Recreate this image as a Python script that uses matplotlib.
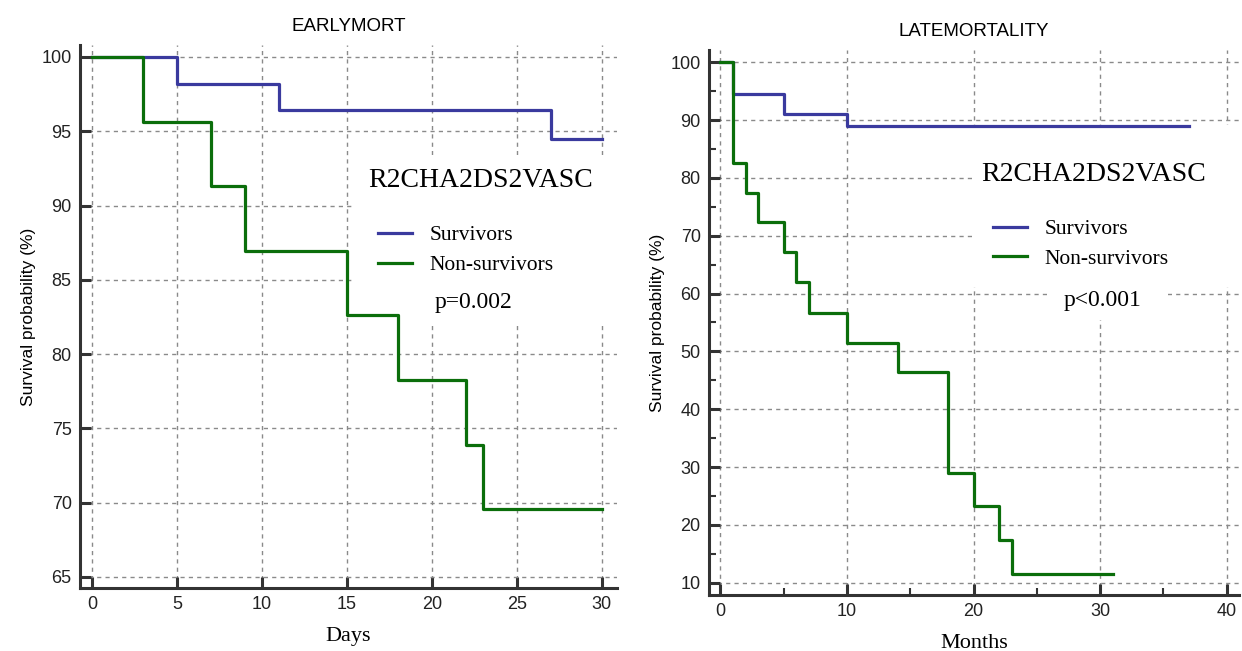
import matplotlib
matplotlib.use("Agg")
import matplotlib.pyplot as plt
from matplotlib.patches import Rectangle
from matplotlib.ticker import MultipleLocator

# EARLYMORT (days)
early_surv_t = [0, 5, 11, 27, 30]
early_surv_s = [100, 98.2, 96.4, 94.5, 94.5]
early_non_t = [0, 3, 7, 9, 15, 18, 22, 23, 30]
early_non_s = [100, 95.65, 91.3, 86.96, 82.6, 78.26, 73.9, 69.57, 69.57]

# LATEMORTALITY (months)
late_surv_t = [0, 1, 5, 10, 37]
late_surv_s = [100, 94.5, 91.0, 88.9, 88.9]
late_non_t = [0, 1, 2, 3, 5, 6, 7, 10, 14, 18, 20, 22, 23, 31]
late_non_s = [100, 82.5, 77.4, 72.3, 67.2, 62.0, 56.7, 51.5, 46.4, 29.0, 23.2, 17.4, 11.5, 11.5]

labels = ["Survivors", "Non-survivors"]
score_name = "R2CHA2DS2VASC"
early_p = "p=0.002"
late_p = "p<0.001"

BLUE = "#3a3a9e"
GREEN = "#0b6e0b"
AX = "#333333"
SANS = "Liberation Sans"
SERIF = "Liberation Serif"

fig = plt.figure(figsize=(12.42, 6.51), dpi=100)
ax1 = fig.add_axes([0.0644, 0.0968, 0.4324, 0.834])
ax2 = fig.add_axes([0.5709, 0.086, 0.427, 0.837])


def style(ax, xlim, ylim, xmaj, ymaj, minor):
    ax.set_xlim(*xlim)
    ax.set_ylim(*ylim)
    ax.xaxis.set_major_locator(MultipleLocator(xmaj))
    ax.yaxis.set_major_locator(MultipleLocator(ymaj))
    if minor:
        ax.xaxis.set_minor_locator(MultipleLocator(xmaj / 2))
        ax.yaxis.set_minor_locator(MultipleLocator(ymaj / 2))
    for s in ["top", "right"]:
        ax.spines[s].set_visible(False)
    for s in ["left", "bottom"]:
        ax.spines[s].set_linewidth(2.2)
        ax.spines[s].set_color(AX)
    ax.tick_params(which="major", direction="in", length=8, width=2.2, color=AX,
                   labelsize=13, labelcolor="#222222", pad=6)
    ax.tick_params(which="minor", direction="in", length=5, width=1.5, color=AX)
    for lab in ax.get_xticklabels() + ax.get_yticklabels():
        lab.set_fontfamily(SANS)
    ax.set_axisbelow(True)
    ax.grid(True, which="major", linestyle=(0, (3, 3)), color="#8a8a8a", linewidth=1)


def panel(ax, st, ss, nt, ns, title, xlabel, p, boxes, txt_xy, p_xy, leg_xy):
    for (x0, y0, w, h) in boxes:
        ax.add_patch(Rectangle((x0, y0), w, h, transform=ax.transAxes,
                               facecolor="white", edgecolor="none", zorder=1))
    ax.step(st, ss, where="post", color=BLUE, lw=2.3, label=labels[0], zorder=3)
    ax.step(nt, ns, where="post", color=GREEN, lw=2.3, label=labels[1], zorder=3)
    ax.set_title(title, fontfamily=SANS, fontsize=13.5, pad=10)
    ax.set_xlabel(xlabel, fontfamily=SERIF, fontsize=16, labelpad=10)
    ax.set_ylabel("Survival probability (%)", fontfamily=SANS, fontsize=12.5)
    ax.text(txt_xy[0], txt_xy[1], score_name, transform=ax.transAxes, ha="center",
            va="center", fontfamily=SERIF, fontsize=20, zorder=4)
    ax.text(p_xy[0], p_xy[1], p, transform=ax.transAxes, ha="center",
            va="center", fontfamily=SERIF, fontsize=17, zorder=4)
    ax.legend(loc="upper left", bbox_to_anchor=leg_xy, frameon=False,
              prop={"family": SERIF, "size": 15.5}, handlelength=1.6,
              handletextpad=0.8, labelspacing=0.45, borderpad=0, borderaxespad=0)


style(ax1, (-0.7, 30.9), (64.26, 100.8), 5, 5, False)
style(ax2, (-0.9, 41.0), (7.87, 102.1), 10, 10, True)

panel(ax1, early_surv_t, early_surv_s, early_non_t, early_non_s,
      "EARLYMORT", "Days", early_p,
      [(0.507, 0.484, 0.5, 0.313)], (0.745, 0.751), (0.733, 0.525), (0.555, 0.668))
panel(ax2, late_surv_t, late_surv_s, late_non_t, late_non_s,
      "LATEMORTALITY", "Months", late_p,
      [(0.495, 0.565, 0.51, 0.297), (0.644, 0.505, 0.222, 0.06)],
      (0.725, 0.771), (0.742, 0.54), (0.535, 0.69))

fig.savefig("out.png", dpi=100)
